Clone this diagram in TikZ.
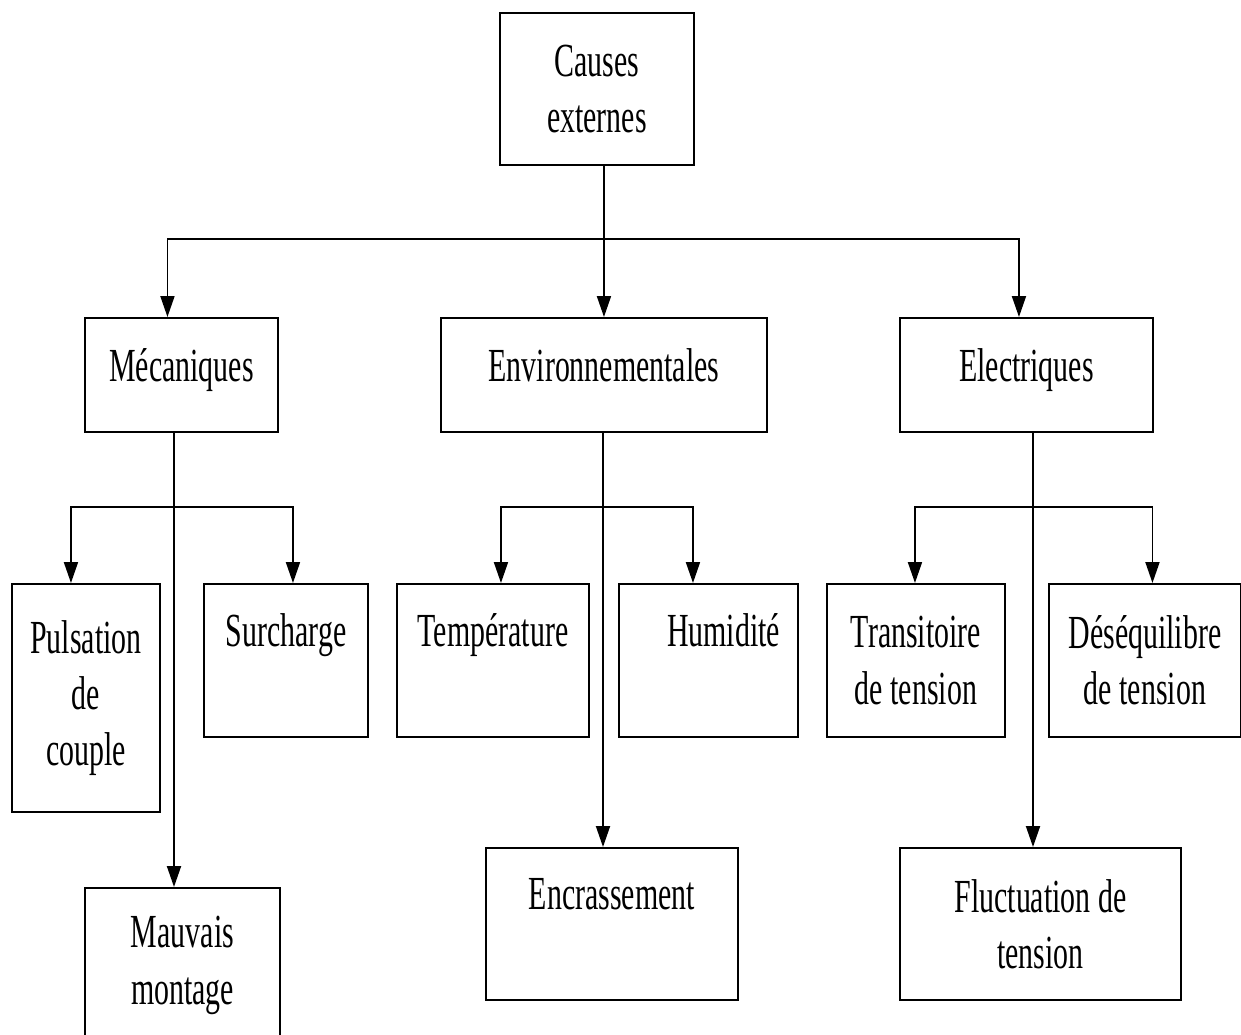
\documentclass[tikz,border=0pt]{standalone}
\usepackage{fontspec}
\setmainfont[FakeStretch=0.63]{Liberation Serif}
\usepackage{tikz}
\usetikzlibrary{arrows.meta}

\tikzset{
  cause/.style={draw, line width=1.1pt, align=center, anchor=north west,
    inner sep=2pt, font=\fontsize{27}{32}\selectfont},
  midtext/.style={text height=0.62cm, text depth=0.34cm},
  uptext/.style={text height=0.62cm, text depth=1.18cm},
  arr/.style={line width=1.1pt, -{Triangle[length=0.42cm,width=0.28cm]}},
  lin/.style={line width=1.1pt}
}

\begin{document}
\begin{tikzpicture}
  \clip (0,0) rectangle (24.82,-20.7);
  \fill[white] (0,0) rectangle (24.82,-20.7);

  \node[cause, minimum width=3.88cm, minimum height=3.04cm] (causes) at (9.98,-0.24) {Causes\\externes};

  \node[cause, midtext, minimum width=3.86cm, minimum height=2.28cm] (mec) at (1.68,-6.34) {Mécaniques};
  \node[cause, midtext, minimum width=6.52cm, minimum height=2.28cm] (env) at (8.80,-6.34) {Environnementales};
  \node[cause, midtext, minimum width=5.06cm, minimum height=2.28cm] (elec) at (17.98,-6.34) {Electriques};

  \node[cause, minimum width=2.96cm, minimum height=4.56cm] (puls) at (0.22,-11.66) {Pulsation\\de\\couple};
  \node[cause, uptext, minimum width=3.28cm, minimum height=3.06cm] (surch) at (4.06,-11.66) {Surcharge};
  \node[cause, uptext, minimum width=3.84cm, minimum height=3.06cm] (temp) at (7.92,-11.66) {Température};
  \node[cause, uptext, minimum width=3.58cm, minimum height=3.06cm] (humid) at (12.36,-11.66) {\hspace{0.6cm}Humidité};
  \node[cause, minimum width=3.56cm, minimum height=3.06cm] (trans) at (16.52,-11.66) {Transitoire\\de tension};
  \node[cause, minimum width=3.84cm, minimum height=3.06cm] (deseq) at (20.96,-11.66) {Déséquilibre\\de tension};

  \node[cause, minimum width=3.90cm, minimum height=3.10cm] (mauv) at (1.68,-17.74) {Mauvais\\montage};
  \node[cause, uptext, minimum width=5.04cm, minimum height=3.04cm] (encr) at (9.70,-16.94) {Encrassement};
  \node[cause, minimum width=5.62cm, minimum height=3.04cm] (fluct) at (17.98,-16.94) {Fluctuation de\\tension};

  % first level
  \coordinate (bus) at (12.06,-4.78);
  \draw[arr] (causes.south -| env.north) -- (env.north);
  \draw[arr] (bus) -| ([xshift=-0.28cm]mec.north);
  \draw[arr] (bus) -| ([xshift=-0.15cm]elec.north);

  % mecaniques
  \coordinate (jm) at (3.48,-10.14);
  \draw[arr] (mec.south -| jm) -- (jm |- mauv.north);
  \draw[arr] (jm) -| ([xshift=-0.30cm]puls.north);
  \draw[arr] (jm) -| ([xshift=0.14cm]surch.north);

  % environnementales
  \coordinate (je) at (12.06,-10.14);
  \draw[arr] (env.south -| je) -- (je |- encr.north);
  \draw[arr] (je) -| ([xshift=0.16cm]temp.north);
  \draw[arr] (je) -| ([xshift=-0.31cm]humid.north);

  % electriques
  \coordinate (jl) at (20.66,-10.14);
  \draw[arr] (elec.south -| jl) -- (jl |- fluct.north);
  \draw[arr] (jl) -| ([xshift=-0.02cm]trans.north);
  \draw[arr] (jl) -| ([xshift=0.15cm]deseq.north);
\end{tikzpicture}
\end{document}
